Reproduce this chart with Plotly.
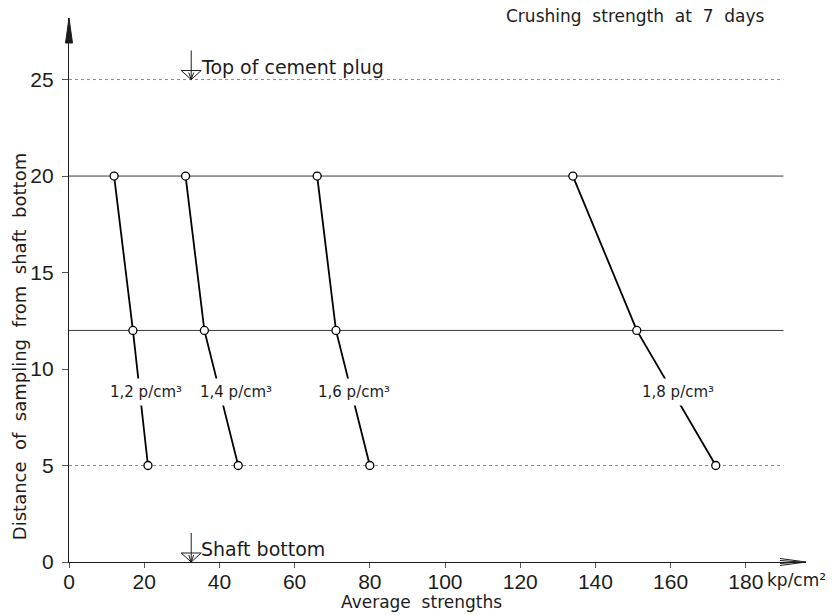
import plotly.graph_objects as go

# Sampling depth above the shaft bottom (m) and the 7-day crushing strengths (kp/cm²)
depth = [20, 12, 5]
strength_12 = [12, 17, 21]
strength_14 = [31, 36, 45]
strength_16 = [66, 71, 80]
strength_18 = [134, 151, 172]

series_names = ["1,2 p/cm³", "1,4 p/cm³", "1,6 p/cm³", "1,8 p/cm³"]
series_values = [strength_12, strength_14, strength_16, strength_18]

# Reference levels in the shaft
level_depths = [25, 0]
level_names = ["Top of cement plug", "Shaft bottom"]
level_mark_x = 32.5

x_ticks = [0, 20, 40, 60, 80, 100, 120, 140, 160, 180]
y_ticks = [0, 5, 10, 15, 20, 25]

X_MAX = 196
Y_MAX = 28.19
GRID_END = 190

INK = "#1c1c1c"
TEXT_FONT = dict(family="DejaVu Sans", size=17, color=INK)
LEVEL_FONT = dict(family="DejaVu Sans", size=19, color=INK)
TICK_FONT = dict(family="Liberation Sans Narrow, Liberation Sans, DejaVu Sans", size=21, color=INK)

fig = go.Figure()

# horizontal sampling / level lines
for d in depth + [25]:
    strong = d in (20, 12)
    fig.add_shape(type="line", xref="x", yref="y", x0=0, x1=GRID_END, y0=d, y1=d,
                  line=dict(color="#3a3a3a" if strong else "#8a8a8a", width=1,
                            dash="solid" if strong else "dot"),
                  layer="below")

# strength curves
for name, vals in zip(series_names, series_values):
    fig.add_trace(go.Scatter(
        x=vals, y=depth, mode="lines+markers", name=name,
        line=dict(color="black", width=1.8),
        marker=dict(symbol="circle", size=8, color="white",
                    line=dict(color="black", width=1.3)),
        showlegend=False, cliponaxis=False,
    ))

# density labels sit on the lower segment of each curve, masking the line
label_depth = 8.8
label_shift = [6, 16, 3, 5]
for name, vals, sh in zip(series_names, series_values, label_shift):
    t = (depth[1] - label_depth) / (depth[1] - depth[2])
    xl = vals[1] + t * (vals[2] - vals[1])
    fig.add_annotation(x=xl, y=label_depth, xref="x", yref="y", text=name,
                       showarrow=False, xshift=sh, bgcolor="white", borderpad=4,
                       font=dict(family="DejaVu Sans", size=15, color=INK))

# level marks: arrow pointing down onto an open inverted triangle
for d, name in zip(level_depths, level_names):
    fig.add_shape(type="path", xref="x", yref="y", xsizemode="pixel", ysizemode="pixel",
                  xanchor=level_mark_x, yanchor=d,
                  path="M0,29 L0,0 M-2.5,7 L0,0 L2.5,7 M-10,9 L10,9 L0,0 Z",
                  line=dict(color=INK, width=1))
    fig.add_annotation(x=level_mark_x, y=d, xref="x", yref="y", text=name,
                       showarrow=False, xanchor="left", yanchor="middle",
                       xshift=8, yshift=13, font=LEVEL_FONT)

# axis arrowheads (paper-referenced so they are not clipped by the plot area)
fig.add_shape(type="path", xref="paper", yref="paper", xsizemode="pixel", ysizemode="pixel",
              xanchor=0, yanchor=1, path="M0,0 L-3.5,-25 L3.5,-25 Z",
              fillcolor=INK, line=dict(color=INK, width=1))
fig.add_shape(type="path", xref="paper", yref="paper", xsizemode="pixel", ysizemode="pixel",
              xanchor=1, yanchor=0, path="M-26,3.5 L0,0 L-26,-3.5 M-26,1.5 L-6,0 L-26,-1.5",
              line=dict(color=INK, width=1))

# titles and unit
fig.add_annotation(xref="paper", yref="paper", x=0.947, y=1.004, xanchor="right",
                   yanchor="middle", text="Crushing  strength  at  7  days",
                   showarrow=False, font=TEXT_FONT)
fig.add_annotation(xref="paper", yref="paper", x=0.478, y=-0.0735, xanchor="center",
                   yanchor="middle", text="Average  strengths", showarrow=False,
                   font=TEXT_FONT)
fig.add_annotation(xref="paper", yref="paper", x=-0.0678, y=0.395, xanchor="center",
                   yanchor="middle", textangle=-90,
                   text="Distance  of  sampling  from  shaft  bottom",
                   showarrow=False, font=dict(family="DejaVu Sans", size=18, color=INK))
fig.add_annotation(xref="x", yref="y", x=185, y=0, xanchor="left", yanchor="middle",
                   yshift=-18, text="kp/cm²", showarrow=False, font=TEXT_FONT)

fig.update_xaxes(range=[0, X_MAX], tickvals=x_ticks, ticktext=[str(v) for v in x_ticks],
                 showgrid=False, zeroline=False, showline=True, linecolor=INK, linewidth=1.2,
                 ticks="outside", ticklen=5, tickcolor="#555", tickfont=TICK_FONT,
                 ticklabelstandoff=-4)
fig.update_yaxes(range=[0, Y_MAX], tickvals=y_ticks, ticktext=[str(v) for v in y_ticks],
                 showgrid=False, zeroline=False, showline=True, linecolor=INK, linewidth=1.2,
                 ticks="outside", ticklen=6, tickcolor="#555", tickfont=TICK_FONT,
                 ticklabelstandoff=4)

fig.update_layout(width=838, height=615, margin=dict(l=69, r=32, t=18, b=53),
                  paper_bgcolor="white", plot_bgcolor="white")

fig.write_html("out.html")
